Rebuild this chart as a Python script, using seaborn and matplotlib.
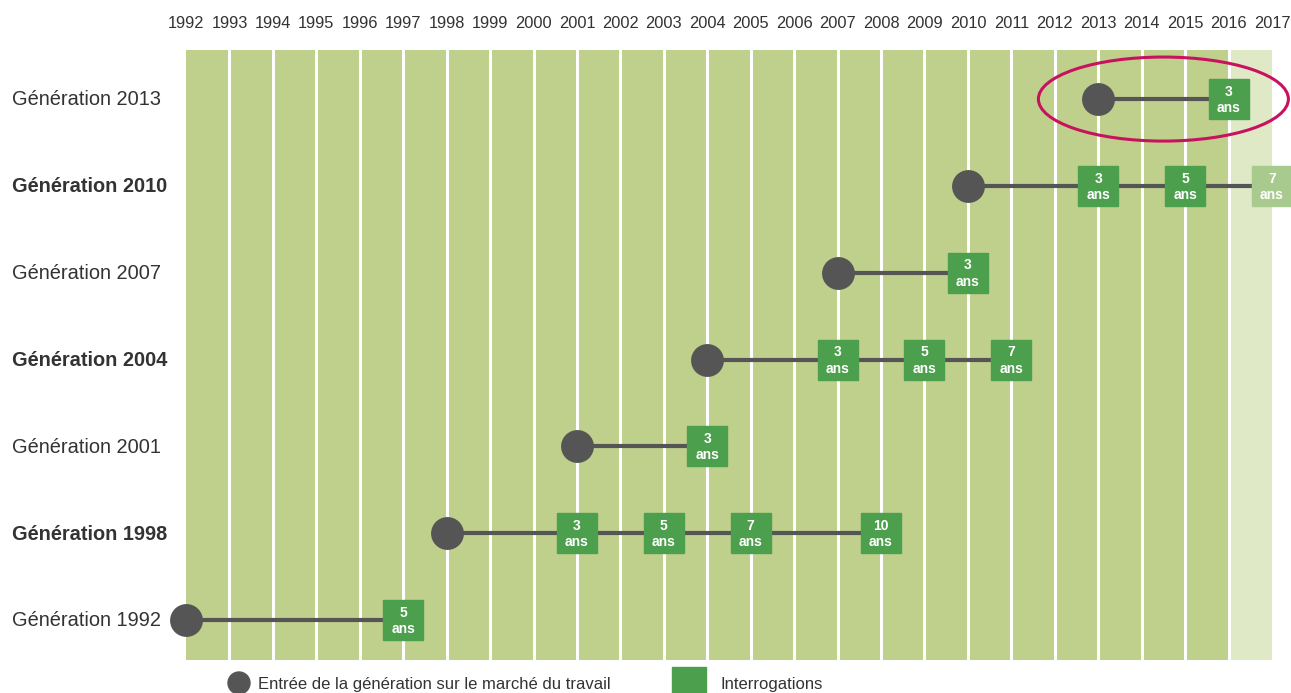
import matplotlib
matplotlib.use('Agg')
import matplotlib.pyplot as plt
import matplotlib.transforms as mtransforms
import seaborn as sns
import pandas as pd
from matplotlib.patches import Rectangle, Ellipse, Circle

sns.set_style('white')
plt.rcParams['font.family'] = ['Liberation Sans', 'DejaVu Sans']

# data
years = list(range(1992, 2018))
generations = [1992, 1998, 2001, 2004, 2007, 2010, 2013]
bold_gens = [1998, 2004, 2010]
interrogations = {
    1992: [5],
    1998: [3, 5, 7, 10],
    2001: [3],
    2004: [3, 5, 7],
    2007: [3],
    2010: [3, 5, 7],
    2013: [3],
}
last_year = 2016  # surveys after this are shown faded

bg = '#bfd08c'
bg_light = '#dfe9c6'
box_green = '#4c9f4c'
box_faded = '#a9ca8f'
dark = '#555555'
txt = '#333333'

fig = plt.figure(figsize=(12.91, 6.93), dpi=100)
W, H = 1291, 693
ax = fig.add_axes([186 / W, (H - 660) / H, (1272 - 186) / W, (660 - 50) / H])

# background columns
ax.add_patch(Rectangle((1992, -0.46), last_year - 1992, 7.025, color=bg, zorder=0))
ax.add_patch(Rectangle((last_year, -0.46), 2017 - last_year, 7.025, color=bg_light, zorder=0))
for y in years[1:-1]:
    ax.axvline(y, color='white', lw=2.2, zorder=1)

# year labels
for y in years:
    ax.text(y, 6.565 + 0.3, str(y), ha='center', va='center', fontsize=11.8,
            color=txt, clip_on=False)

rows = {g: i for i, g in enumerate(generations)}
entries = pd.DataFrame({'year': generations, 'row': [rows[g] for g in generations]})

bw, bh = 0.92, 0.46
for g in generations:
    r = rows[g]
    end = g + max(interrogations[g])
    ax.plot([g, end], [r, r], color=dark, lw=3, zorder=2, solid_capstyle='butt')
    for a in interrogations[g]:
        yr = g + a
        c = box_faded if yr > last_year else box_green
        ax.add_patch(Rectangle((yr - bw / 2, r - bh / 2), bw, bh, color=c, zorder=4,
                               clip_on=False))
        ax.text(yr, r - 0.01, f'{a}\nans', ha='center', va='center', color='white',
                fontsize=10, fontweight='bold', linespacing=1.2, zorder=5, clip_on=False)
    ax.annotate(f'Génération {g}', xy=(12 / W, r - 0.01), xycoords=('figure fraction', 'data'),
                fontsize=14.4, color=txt, va='center', ha='left',
                fontweight='bold' if g in bold_gens else 'normal', annotation_clip=False)

sns.scatterplot(data=entries, x='year', y='row', ax=ax, s=480, color=dark,
                edgecolor=dark, zorder=3, clip_on=False, legend=False)
ax.set_xlim(1992, 2017)
ax.set_ylim(-0.46, 6.565)
ax.axis('off')

# highlight ellipse around the 2013 generation
ax.add_patch(Ellipse((2014.5, rows[2013]), 250 / 43.44, 84 / 86.8, fill=False,
                     edgecolor='#c8125f', lw=2.2, zorder=6, clip_on=False))

# legend (pixel coordinates, origin bottom-left)
px = mtransforms.IdentityTransform()
fig.add_artist(Circle((239, H - 683), 11, transform=px, color=dark))
fig.text(258 / W, (H - 684) / H, 'Entrée de la génération sur le marché du travail',
         fontsize=12, color=txt, va='center')
fig.add_artist(Rectangle((672, 0), 34, 26, transform=px, color=box_green))
fig.text(720 / W, (H - 684) / H, 'Interrogations', fontsize=12, color=txt, va='center')

fig.savefig('out.png', dpi=100)
